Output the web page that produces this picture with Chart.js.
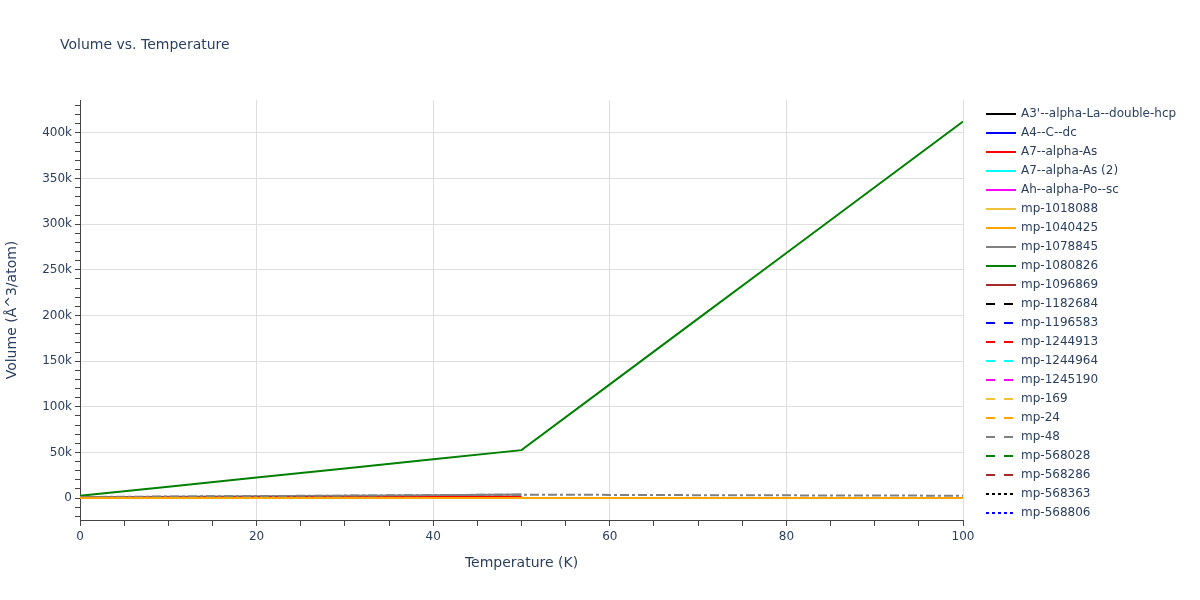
<!DOCTYPE html>
<html>
<head>
<meta charset="utf-8">
<script src="https://cdn.jsdelivr.net/npm/chart.js@4"></script>
<style>
  html, body { margin: 0; padding: 0; background: #fff; }
  #wrap { width: 1200px; height: 600px; }
</style>
</head>
<body>
<div id="wrap"><canvas id="chart" width="1200" height="600"></canvas></div>
<script>
// Temperatures (K)
const temps = [0, 10, 20, 30, 40, 50, 60, 70, 80, 90, 100];

// Volume values (Å^3/atom) per structure
const a3Alpha   = [21, 21, 21, 22, 22, 22, null, null, null, null, null];
const a4CDc     = [20, 20, 20, 20, 21, 21, null, null, null, null, null];
const a7Alpha   = [400, 600, 800, 1000, 1300, 1600, null, null, null, null, null];
const a7Alpha2  = [24, 24, 25, 25, 25, 26, null, null, null, null, null];
const ahAlphaPo = [23, 23, 23, 24, 24, 24, null, null, null, null, null];
const mp1018088 = [22, 22, 22, 22, 23, 23, null, null, null, null, null];
const mp1040425 = [20, 20, 20, 21, 21, 21, 21, 22, 22, 22, 22];
const mp1078845 = [1000, 1500, 2000, 2600, 3200, 3800, null, null, null, null, null];
const mp1080826 = [2500, 12500, 22500, 32500, 42500, 52500, 124500, 196500, 268500, 340500, 412500];
const mp1096869 = [22, 22, 23, 23, 23, 24, null, null, null, null, null];
const mp1182684 = [21, 21, 21, 22, 22, 22, null, null, null, null, null];
const mp1196583 = [23, 23, 23, 24, 24, 24, null, null, null, null, null];
const mp1244913 = [22, 22, 22, 23, 23, 23, null, null, null, null, null];
const mp1244964 = [800, 1300, 1800, 2300, 2900, 3500, null, null, null, null, null];
const mp1245190 = [24, 24, 24, 25, 25, 25, null, null, null, null, null];
const mp169     = [21, 21, 22, 22, 22, 23, null, null, null, null, null];
const mp24      = [20, 20, 20, 21, 21, 21, null, null, null, null, null];
const mp48      = [22, 22, 22, 23, 23, 23, null, null, null, null, null];
const mp568028  = [23, 23, 23, 24, 24, 24, null, null, null, null, null];
const mp568286  = [22, 22, 23, 23, 23, 23, null, null, null, null, null];
const mp568363  = [21, 21, 21, 22, 22, 22, null, null, null, null, null];
const mp568806  = [22, 22, 22, 22, 23, 23, null, null, null, null, null];
// dash-dot series whose legend entry is cut off below the visible list
const grayDashDot = [1200, 1700, 2200, 2700, 3300, 3800, 3500, 3200, 3000, 2800, 2600];

// y axis ticks: labelled every 50k, minor marks every 10k
const yMajorStep = 50000;
const yMinorStep = 10000;

const colorCycle = ["#000000", "#0000ff", "#ff0000", "#00ffff", "#ff00ff",
                    "#eec33b", "#ffa500", "#808080", "#008000", "#a52a2a"];
const DASH = [9, 9], DOT = [3, 3], DASHDOT = [9, 3, 3, 3];

const seriesList = [
  ["A3'--alpha-La--double-hcp", a3Alpha, []],
  ["A4--C--dc", a4CDc, []],
  ["A7--alpha-As", a7Alpha, []],
  ["A7--alpha-As (2)", a7Alpha2, []],
  ["Ah--alpha-Po--sc", ahAlphaPo, []],
  ["mp-1018088", mp1018088, []],
  ["mp-1040425", mp1040425, []],
  ["mp-1078845", mp1078845, []],
  ["mp-1080826", mp1080826, []],
  ["mp-1096869", mp1096869, []],
  ["mp-1182684", mp1182684, DASH],
  ["mp-1196583", mp1196583, DASH],
  ["mp-1244913", mp1244913, DASH],
  ["mp-1244964", mp1244964, DASH],
  ["mp-1245190", mp1245190, DASH],
  ["mp-169", mp169, DASH],
  ["mp-24", mp24, DASH],
  ["mp-48", mp48, DASH],
  ["mp-568028", mp568028, DASH],
  ["mp-568286", mp568286, DASH],
  ["mp-568363", mp568363, DOT],
  ["mp-568806", mp568806, DOT]
];

const datasets = seriesList.map((s, i) => ({
  label: s[0],
  data: s[1],
  borderColor: colorCycle[i % 10],
  borderDash: s[2],
  borderWidth: 2,
  pointRadius: 0,
  tension: 0,
  fill: false,
  order: s[0] === "mp-1040425" ? -2 : 0,
  inLegend: true
}));
datasets.push({
  label: "",
  data: grayDashDot,
  borderColor: "#808080",
  borderDash: DASHDOT,
  borderWidth: 2,
  pointRadius: 0,
  tension: 0,
  fill: false,
  order: -1,
  inLegend: false
});

const textColor = "#2a3f5f";
const gridColor = "#dedede";
const fontFamily = "'DejaVu Sans', Verdana, sans-serif";

// Plot title and legend drawn Plotly-style
const plotDecor = {
  id: "plotDecor",
  afterDraw(chart) {
    const c = chart.ctx;
    c.save();
    c.fillStyle = textColor;
    c.font = "14px " + fontFamily;
    c.textBaseline = "middle";
    c.textAlign = "left";
    c.fillText("Volume vs. Temperature", 60, 45);

    c.font = "12px " + fontFamily;
    let y = 114;
    chart.data.datasets.forEach(ds => {
      if (!ds.inLegend) return;
      c.strokeStyle = ds.borderColor;
      c.lineWidth = 2;
      c.setLineDash(ds.borderDash || []);
      c.beginPath();
      c.moveTo(986, y);
      c.lineTo(1016, y);
      c.stroke();
      c.setLineDash([]);
      c.fillStyle = textColor;
      c.fillText(ds.label, 1021, y);
      y += 19;
    });
    c.restore();
  }
};

new Chart(document.getElementById("chart"), {
  type: "line",
  data: { labels: temps, datasets: datasets },
  plugins: [plotDecor],
  options: {
    responsive: false,
    animation: false,
    events: [],
    layout: { padding: { top: 100, right: 237, left: 0, bottom: 0 } },
    plugins: { legend: { display: false }, tooltip: { enabled: false } },
    scales: {
      x: {
        type: "linear",
        min: 0,
        max: 100,
        afterFit: s => { s.height = 80; },
        ticks: {
          stepSize: 5,
          autoSkip: false,
          maxRotation: 0,
          padding: 4,
          color: textColor,
          font: { family: fontFamily, size: 12 },
          callback: v => (v % 20 === 0 ? String(v) : "")
        },
        grid: {
          color: ctx => (ctx.tick && ctx.tick.value % 20 === 0 ? gridColor : "rgba(0,0,0,0)"),
          tickColor: "#444",
          tickLength: 6,
          lineWidth: 1
        },
        border: { display: true, color: "#444", width: 1 },
        title: {
          display: true,
          text: "Temperature (K)",
          color: textColor,
          font: { family: fontFamily, size: 14 },
          padding: { top: 4, bottom: 28 }
        }
      },
      y: {
        type: "linear",
        min: -24000,
        max: 436000,
        afterFit: s => { s.width = 80; },
        afterBuildTicks: s => {
          const ticks = [];
          for (let v = Math.ceil(s.min / yMinorStep) * yMinorStep; v <= s.max; v += yMinorStep) {
            ticks.push({ value: v });
          }
          s.ticks = ticks;
        },
        ticks: {
          autoSkip: false,
          padding: 3,
          color: textColor,
          font: { family: fontFamily, size: 12 },
          callback: v => (v % yMajorStep === 0 ? (v === 0 ? "0" : (v / 1000) + "k") : "")
        },
        grid: {
          color: ctx => (ctx.tick && ctx.tick.value % yMajorStep === 0 && ctx.tick.value !== 0 ? gridColor : "rgba(0,0,0,0)"),
          tickColor: "#444",
          tickLength: 5,
          lineWidth: 1
        },
        border: { display: true, color: "#444", width: 1 },
        title: {
          display: true,
          text: "Volume (Å^3/atom)",
          color: textColor,
          font: { family: fontFamily, size: 14 },
          padding: { top: 4, bottom: 4 }
        }
      }
    }
  }
});
</script>
</body>
</html>
